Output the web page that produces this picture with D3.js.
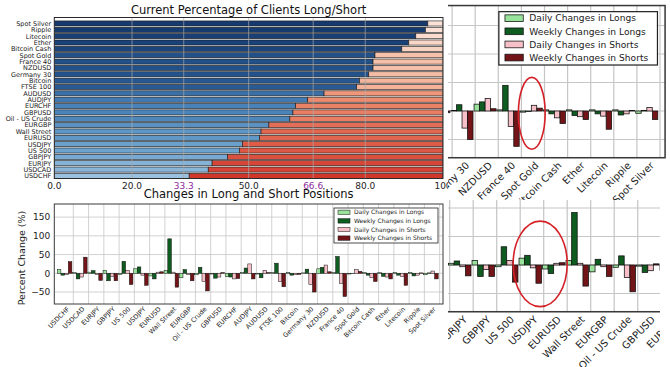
<!DOCTYPE html>
<html><head><meta charset="utf-8">
<script src="https://cdn.jsdelivr.net/npm/d3@7"></script>
<style>body{margin:0;background:#fff;} svg{display:block;}</style>
</head><body>
<script>
// ---------- Data: current percentage long ----------
const pctCategories = ["Spot Silver","Ripple","Litecoin","Ether","Bitcoin Cash","Spot Gold","France 40","NZDUSD","Germany 30","Bitcoin","FTSE 100","AUDUSD","AUDJPY","EURCHF","GBPUSD","Oil - US Crude","EURGBP","Wall Street","EURUSD","USDJPY","US 500","GBPJPY","EURJPY","USDCAD","USDCHF"];
const pctLong = [96.1,95.5,93.0,91.2,89.4,82.5,82.0,82.0,80.9,78.5,77.8,69.4,65.2,62.1,61.4,60.6,55.2,53.2,52.8,48.4,47.6,44.6,40.6,39.6,34.7];
const pctTicks = [0,20,33.3,50,66.6,80,100];
const pctTickLabels = ["0.0","20.0","33.3","50.0","66.6","80.0","100"];
const pctHighlightTicks = [33.3,66.6];

// ---------- Data: changes in positions ----------
const chgCategories = ["USDCHF","USDCAD","EURJPY","GBPJPY","US 500","USDJPY","EURUSD","Wall Street","EURGBP","Oil - US Crude","GBPUSD","EURCHF","AUDJPY","AUDUSD","FTSE 100","Bitcoin","Germany 30","NZDUSD","France 40","Spot Gold","Bitcoin Cash","Ether","Litecoin","Ripple","Spot Silver"];
const dailyLongs   = [10,  2,  3,  8, -3, 12, -7,  8,-12, -4, -2, -9,  2, -2,  2,  2,  1, 12,  2, -2,  2,  2,  2,  2, -4];
const weeklyLongs  = [-5,-15,  7,-20, 32, 17,-15, 92, 10, 16,-13,-10, 14,-12, 27, -5, 11, 16, 45, -1, -5, -8, -5, -7,  1];
const dailyShorts  = [-4,-10, -3, -8,  8, -5,  3,  3, -3,-22,-10,-15, 25,  8,-22, -4,-30, 22,-27, 10,-12,-10, -9, -5,  6];
const weeklyShorts = [31, 43,-19,-20,-30,-32,  4,-37,-20,-47,  2,-14,-15,  2,-36, -3,-50,  4,-62,  5,-22,-15,-32,  1,-15];
const seriesNames = ["Daily Changes in Longs","Weekly Changes in Longs","Daily Changes in Shorts","Weekly Changes in Shorts"];
const chgYTicks = [-50,0,50,100,150];

// ---------- Styles ----------
const seriesColors = ["#99e29b","#0e5c1f","#f7c0c8","#731518"];
const FONT = "'DejaVu Sans', sans-serif";
const CHG_XDOMAIN = [-1.245, 24.22];
const CHG_YDOMAIN = [-82, 185];
const BAR0 = -1.05, BARSTEP = 0.24, BARW = 0.235;

const W = 670, H = 367;
const svg = d3.select("body").append("svg").attr("width", W).attr("height", H)
  .style("font-family", FONT);
svg.append("rect").attr("width", W).attr("height", H).attr("fill", "#fff");
const defs = svg.append("defs");

// ---------- Changes chart renderer ----------
function drawChanges(g, x, y, k) {
  const [xl, xr] = x.range();
  const [yb, yt] = y.range();
  g.append("rect").attr("x", xl).attr("y", yt).attr("width", xr - xl).attr("height", yb - yt).attr("fill", "#fff");
  const idx = d3.range(chgCategories.length);
  g.append("g").selectAll("line").data(idx).join("line")
    .attr("x1", i => x(i)).attr("x2", i => x(i)).attr("y1", yt).attr("y2", yb)
    .attr("stroke", "#c6c6c6").attr("stroke-width", 0.8 * k);
  g.append("g").selectAll("line").data(chgYTicks).join("line")
    .attr("x1", xl).attr("x2", xr).attr("y1", d => y(d)).attr("y2", d => y(d))
    .attr("stroke", "#c6c6c6").attr("stroke-width", 0.8 * k);
  const series = [dailyLongs, weeklyLongs, dailyShorts, weeklyShorts];
  series.forEach((vals, s) => {
    g.append("g").selectAll("rect").data(vals).join("rect")
      .attr("x", (v, i) => x(i + BAR0 + s * BARSTEP))
      .attr("width", x(BARW) - x(0))
      .attr("y", v => y(Math.max(0, v)))
      .attr("height", v => Math.abs(y(v) - y(0)))
      .attr("fill", seriesColors[s]).attr("stroke", "#111").attr("stroke-width", 0.5 * k);
  });
  g.append("rect").attr("x", xl).attr("y", yt).attr("width", xr - xl).attr("height", yb - yt)
    .attr("fill", "none").attr("stroke", "#3a3a3a").attr("stroke-width", 1 * k);
  // y ticks labels
  g.append("g").selectAll("text").data(chgYTicks).join("text")
    .attr("x", xl - 4 * k).attr("y", d => y(d)).attr("dy", "0.36em")
    .attr("text-anchor", "end").attr("font-size", 9 * k).attr("fill", "#222")
    .text(d => d < 0 ? "\u2212" + Math.abs(d) : d);
  // x labels
  g.append("g").selectAll("text").data(chgCategories).join("text")
    .attr("transform", (c, i) => `translate(${x(i) - 3.5 * k},${yb + 5.5 * k}) rotate(-45)`)
    .attr("text-anchor", "end").attr("font-size", 6.5 * k).attr("fill", "#222")
    .text(c => c);
  // y label
  g.append("text")
    .attr("transform", `translate(${xl - 29 * k},${(yt + yb) / 2 + 4 * k}) rotate(-90)`)
    .attr("text-anchor", "middle").attr("font-size", 9.5 * k).attr("fill", "#222")
    .text("Percent Change (%)");
  // title
  g.append("text").attr("x", (xl + xr) / 2).attr("y", yt - 6 * k)
    .attr("text-anchor", "middle").attr("font-size", 11.5 * k).attr("fill", "#111")
    .text("Changes in Long and Short Positions");
  // legend
  const bx = xr - 109 * k, by = yt + 4 * k, bw = 104 * k, bh = 35 * k;
  const lg = g.append("g");
  lg.append("rect").attr("x", bx).attr("y", by).attr("width", bw).attr("height", bh)
    .attr("fill", "#fff").attr("stroke", "#222").attr("stroke-width", 0.8 * k);
  seriesNames.forEach((n, s) => {
    const ry = by + (4.3 + 8.6 * s) * k;
    lg.append("rect").attr("x", bx + 4 * k).attr("y", ry - 2.2 * k).attr("width", 12 * k).attr("height", 4.4 * k)
      .attr("fill", seriesColors[s]).attr("stroke", "#111").attr("stroke-width", 0.5 * k);
    lg.append("text").attr("x", bx + 20 * k).attr("y", ry).attr("dy", "0.35em")
      .attr("font-size", 6 * k).attr("fill", "#222").text(n);
  });
}

// ---------- Bottom-left: full changes chart ----------
{
  const x = d3.scaleLinear().domain(CHG_XDOMAIN).range([54.3, 443]);
  const y = d3.scaleLinear().domain(CHG_YDOMAIN).range([304, 204]);
  drawChanges(svg.append("g"), x, y, 1);
}

// ---------- Top-left: current percentage chart ----------
{
  const x = d3.scaleLinear().domain([0, 100]).range([54.3, 443]);
  const y = d3.scaleBand().domain(pctCategories).range([20.3, 179.1]).paddingInner(0.2).paddingOuter(0.1);
  const pt = 17.5, pb = 178.5;
  const blue = d3.scaleLinear().domain([34, 48, 61, 70, 80, 96])
    .range(["#9ec3e1", "#6aa1cd", "#4b85ba", "#3a6ea6", "#24548e", "#163a6e"]);
  const red = d3.scaleLinear().domain([4, 18, 31, 45, 65])
    .range(["#fbe2d7", "#f5c0a9", "#ef9678", "#e36c55", "#d0372b"]);
  defs.append("clipPath").attr("id", "clipPct").append("rect")
    .attr("x", x(0)).attr("y", pt).attr("width", x(100) - x(0)).attr("height", pb - pt);
  const g = svg.append("g");
  const pg = g.append("g").attr("clip-path", "url(#clipPct)");
  pg.append("rect").attr("x", x(0)).attr("y", pt).attr("width", x(100) - x(0)).attr("height", pb - pt).attr("fill", "#fff");
  const data = pctCategories.map((c, i) => ({c, v: pctLong[i]}));
  pg.append("g").selectAll("rect").data(data).join("rect")
    .attr("x", x(0)).attr("y", d => y(d.c)).attr("width", d => x(d.v) - x(0)).attr("height", y.bandwidth())
    .attr("fill", d => blue(d.v)).attr("stroke", "#1a1a1a").attr("stroke-width", 0.6);
  pg.append("g").selectAll("rect").data(data).join("rect")
    .attr("x", d => x(d.v)).attr("y", d => y(d.c)).attr("width", d => x(100) - x(d.v)).attr("height", y.bandwidth())
    .attr("fill", d => red(100 - d.v)).attr("stroke", "#1a1a1a").attr("stroke-width", 0.6);
  pg.append("g").selectAll("line").data(pctTicks.slice(1, -1)).join("line")
    .attr("x1", d => x(d)).attr("x2", d => x(d)).attr("y1", pt).attr("y2", pb)
    .attr("stroke", "#a8a8a8").attr("stroke-opacity", 0.75).attr("stroke-width", 0.9);
  g.append("rect").attr("x", x(0)).attr("y", pt).attr("width", x(100) - x(0)).attr("height", pb - pt)
    .attr("fill", "none").attr("stroke", "#2a2a2a").attr("stroke-width", 1);
  g.append("g").selectAll("text").data(pctCategories).join("text")
    .attr("x", x(0) - 3).attr("y", d => y(d) + y.bandwidth() / 2).attr("dy", "0.36em")
    .attr("text-anchor", "end").attr("font-size", 6.5).attr("fill", "#222").text(d => d);
  g.append("g").selectAll("text").data(pctTicks).join("text")
    .attr("x", d => x(d)).attr("y", 189).attr("text-anchor", "middle").attr("font-size", 9)
    .attr("fill", d => pctHighlightTicks.includes(d) ? "#8e2a9c" : "#222")
    .text((d, i) => pctTickLabels[i]);
  g.append("text").attr("x", (x(0) + x(100)) / 2).attr("y", 14).attr("text-anchor", "middle")
    .attr("font-size", 11.5).attr("fill", "#111").text("Current Percentage of Clients Long/Short");
}

// ---------- Zoomed panels (right side) ----------
function zoomPanel(id, clip, anchorIdx, anchorPx, unitPx, zeroPx, pxPerPct, k, hl) {
  defs.append("clipPath").attr("id", id).append("rect")
    .attr("x", clip[0]).attr("y", clip[1]).attr("width", clip[2] - clip[0]).attr("height", clip[3] - clip[1]);
  const g = svg.append("g").attr("clip-path", `url(#${id})`);
  g.append("rect").attr("x", clip[0]).attr("y", clip[1]).attr("width", clip[2] - clip[0]).attr("height", clip[3] - clip[1]).attr("fill", "#fff");
  const x = d3.scaleLinear().domain(CHG_XDOMAIN)
    .range(CHG_XDOMAIN.map(u => anchorPx + unitPx * (u - anchorIdx)));
  const y = d3.scaleLinear().domain(CHG_YDOMAIN)
    .range(CHG_YDOMAIN.map(v => zeroPx - pxPerPct * v));
  drawChanges(g, x, y, k);
  g.append("ellipse")
    .attr("cx", x(hl.u)).attr("cy", y(hl.v))
    .attr("rx", x(hl.du) - x(0)).attr("ry", y(0) - y(hl.dv))
    .attr("fill", "none").attr("stroke", "#d42027").attr("stroke-width", 1.6);
}
zoomPanel("clipRT", [448, 0, 670, 200], 19, 544.5, 23.1, 111, 0.57, 1.525,
  {u: chgCategories.indexOf("Spot Gold") - 0.55, v: -4, du: 0.58, dv: 63});
zoomPanel("clipRB", [448, 200, 660, 367], 3, 496.7, 23.5, 265, 0.57, 1.54,
  {u: chgCategories.indexOf("USDJPY") - 0.15, v: 2, du: 1.15, dv: 75});
</script>
</body></html>
